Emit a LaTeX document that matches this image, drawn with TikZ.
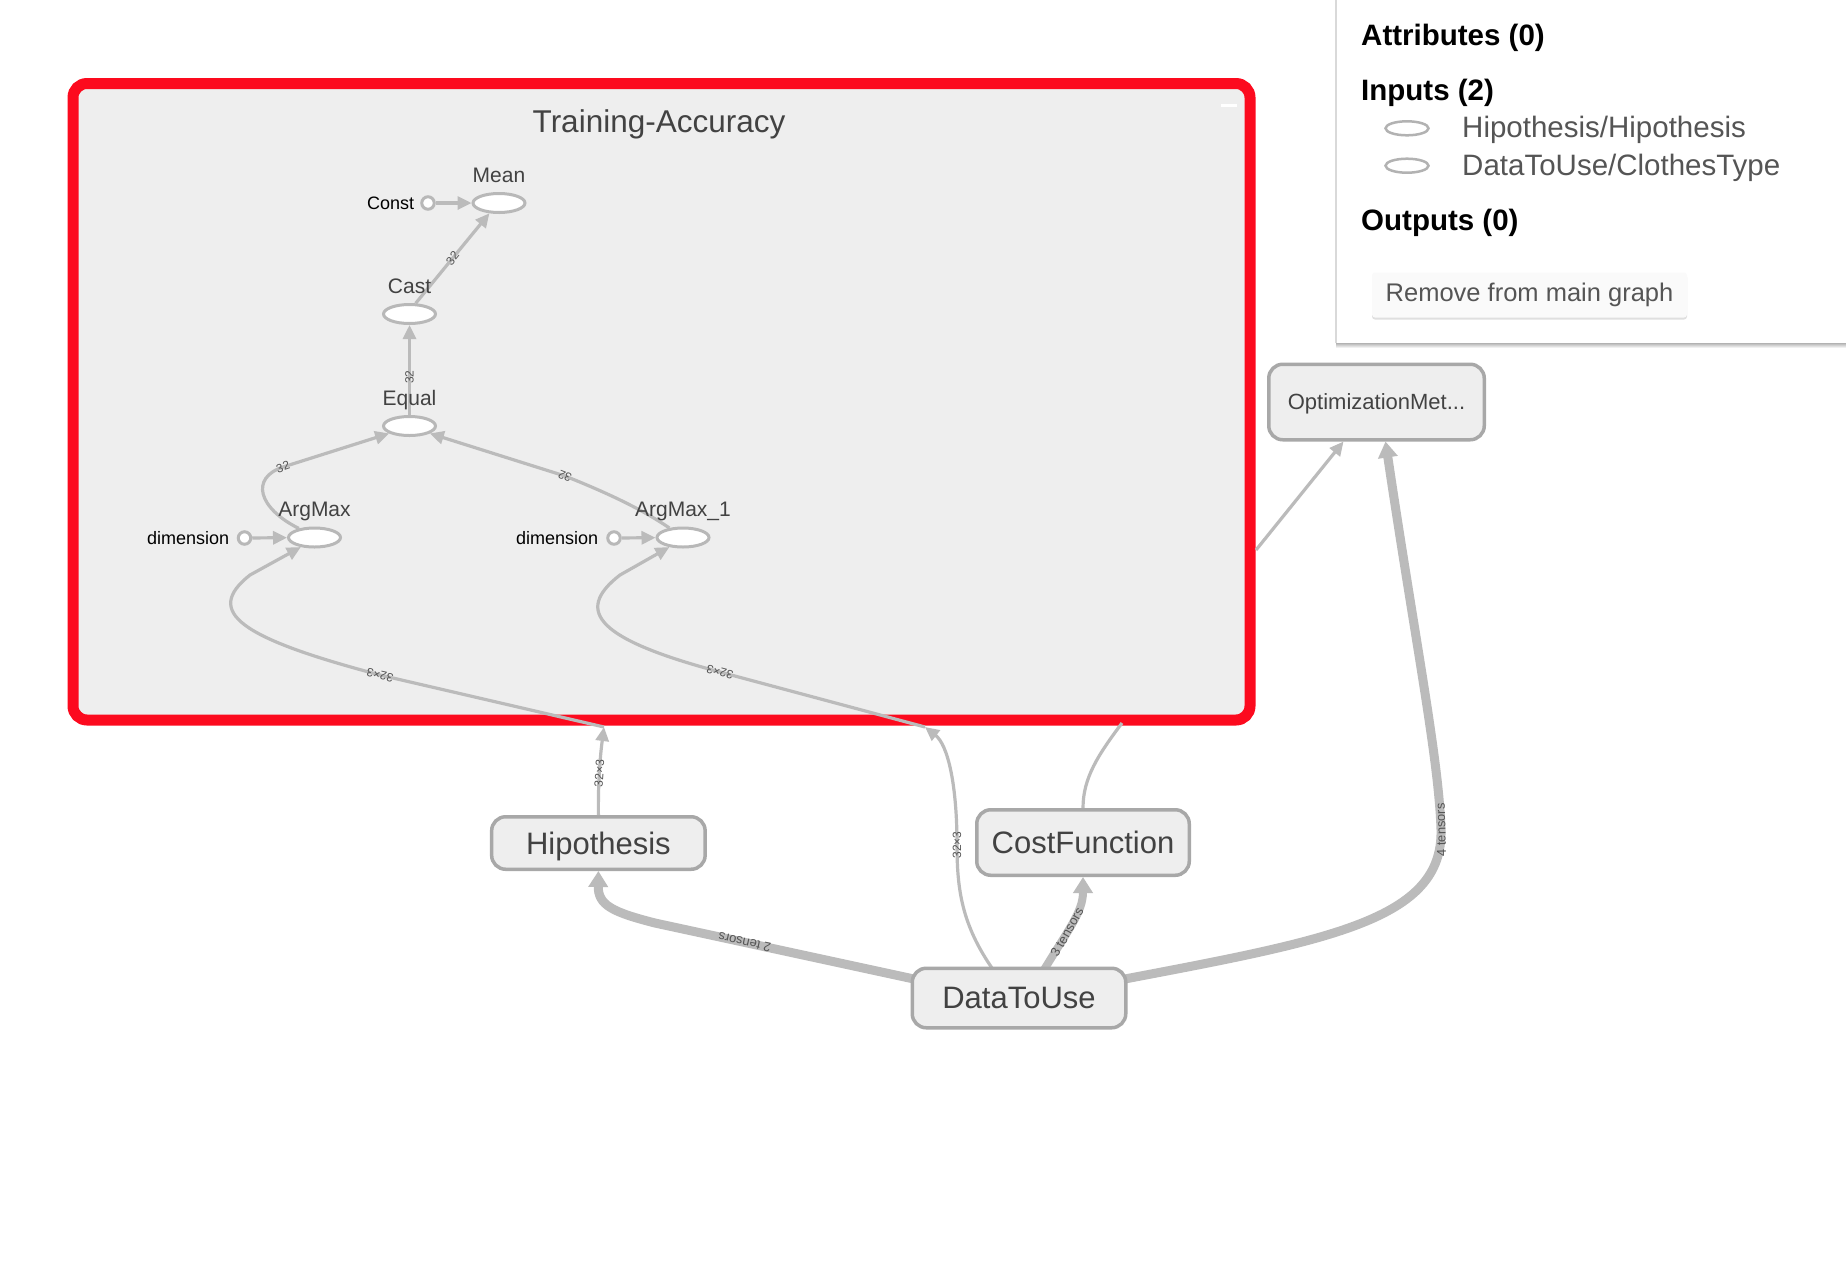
\documentclass[tikz,border=0pt]{standalone}
\usepackage{fontspec}
\setmainfont{Liberation Sans}
\usepackage{tikz}
\usetikzlibrary{arrows.meta,positioning,calc,backgrounds,shapes.geometric,shadows}

\definecolor{grpred}{HTML}{FC0A1E}
\definecolor{grpfill}{HTML}{EEEEEE}
\definecolor{edgegray}{HTML}{BBBBBB}
\definecolor{boxgray}{HTML}{A8A8A8}
\definecolor{opgray}{HTML}{B8B8B8}
\definecolor{txtgray}{HTML}{424242}
\definecolor{lblgray}{HTML}{555555}

\tikzset{
  grpbox/.style={rectangle, draw=grpred, line width=11pt, fill=grpfill,
                 rounded corners=14pt, inner sep=0pt},
  grptitle/.style={anchor=base, inner sep=0pt, text=txtgray,
                   font=\fontsize{31.5}{36}\selectfont},
  opnode/.style={ellipse, draw=opgray, line width=3pt, fill=white,
                 minimum width=52pt, minimum height=19pt, inner sep=0pt},
  oplbl/.style={inner sep=0pt, text=txtgray, font=\fontsize{21}{25}\selectfont},
  cnode/.style={circle, draw=opgray, line width=3pt, fill=white,
                minimum size=12.5pt, inner sep=0pt},
  clbl/.style={inner sep=0pt, font=\fontsize{18}{21}\selectfont},
  metabox/.style={rectangle, draw=boxgray, line width=3.5pt, fill=grpfill,
                  rounded corners=14pt, inner sep=0pt, text=txtgray, text depth=0pt,
                  font=\fontsize{31}{36}\selectfont},
  flow/.style={draw=edgegray, line width=3.2pt, -{Triangle[length=14pt,width=13pt]}},
  bigflow/.style={draw=edgegray, line width=9pt, -{Triangle[length=16pt,width=19pt]}},
  elbl/.style={inner sep=0pt, sloped, allow upside down, text=lblgray,
               font=\fontsize{12}{14}\selectfont},
  tlbl/.style={elbl, font=\fontsize{13}{15}\selectfont},
  phead/.style={anchor=base west, inner sep=0pt, font=\bfseries\fontsize{29.5}{34}\selectfont},
  pitem/.style={anchor=base west, inner sep=0pt, text=lblgray,
                font=\fontsize{29.5}{34}\selectfont},
  inicon/.style={ellipse, draw=black!30, line width=2.5pt, minimum width=43pt,
                 minimum height=14pt, inner sep=0pt},
  rmbtn/.style={rectangle, fill=black!2, rounded corners=3pt, text=lblgray,
                minimum width=315pt, minimum height=45pt, inner sep=0pt,
                font=\fontsize{25.5}{30}\selectfont,
                drop shadow={opacity=0.25, shadow xshift=0pt, shadow yshift=-2pt}},
}

\begin{document}
\begin{tikzpicture}[x=1pt,y=-1pt]
  \useasboundingbox (0,0) rectangle (1846,1278);

  % info panel
  \fill[white] (1336,0) rectangle (1846,343);
  \shade[top color=black!30, bottom color=white] (1336,343) rectangle (1846,348);
  \draw[black!15, line width=1.5pt] (1336,0) -- (1336,343);
  \node[phead] (attr) at (1361,45) {Attributes (0)};
  \node[phead] (inps) at (1361,100) {Inputs (2)};
  \node[inicon] (inicona) at (1407,128.3) {};
  \node[pitem] (inpa) at (1462,137) {Hipothesis/Hipothesis};
  \node[inicon] (iniconb) at (1407,165.7) {};
  \node[pitem] (inpb) at (1462,175) {DataToUse/ClothesType};
  \node[phead] (outs) at (1361,230) {Outputs (0)};
  \node[rmbtn] (remove) at (1529.5,295) {Remove from main graph};

  % group contents
  \node[grptitle] (grplbl) at (659,132) {Training-Accuracy};
  \node[opnode] (mean) at (499,203) {};
  \node[opnode] (cast) at (409.5,314) {};
  \node[opnode] (equal) at (409.5,426) {};
  \node[opnode] (argmax) at (314.5,537.5) {};
  \node[opnode] (argmaxb) at (683,537.5) {};
  \node[oplbl, above=10pt of mean, anchor=base] (meanlbl) {Mean};
  \node[oplbl, above=10pt of cast, anchor=base] (castlbl) {Cast};
  \node[oplbl, above=10pt of equal, anchor=base] (equallbl) {Equal};
  \node[oplbl, above=10pt of argmax, anchor=base] (argmaxlbl) {ArgMax};
  \node[oplbl, above=10pt of argmaxb, anchor=base] (argmaxblbl) {ArgMax\_1};
  \node[cnode] (cst) at (428,203) {};
  \node[clbl, left=6pt of cst] (cstlbl) {Const};
  \node[cnode] (dima) at (244.5,538) {};
  \node[clbl, left=7.5pt of dima] (dimalbl) {dimension};
  \node[cnode] (dimb) at (614,538) {};
  \node[clbl, left=8pt of dimb] (dimblbl) {dimension};

  % outer nodes
  \node[metabox, minimum width=213.5pt, minimum height=52.5pt] (hyp) at (598.4,843) {Hipothesis};
  \node[metabox, minimum width=212.5pt, minimum height=65.5pt] (cost) at (1083,842.5) {CostFunction};
  \node[metabox, minimum width=213.5pt, minimum height=59.5pt] (data) at (1019,998) {DataToUse};
  \node[metabox, minimum width=215.5pt, minimum height=75.5pt,
        font=\fontsize{22}{26}\selectfont] (opt) at (1376.5,402) {OptimizationMet...};

  \begin{scope}[on background layer]
    \fill[white] (0,0) rectangle (1846,1278);
    \node[grpbox, minimum width=1177pt, minimum height=636.5pt] (grp) at (661.5,401.75) {};
    \draw[white, line width=3pt] (1221,105) -- (1237,105);
    \coordinate (hypin) at (604,727);
    \coordinate (datain) at (925,727);
    \coordinate (costin) at (1122,723);
    \coordinate (optout) at (1256,550);

    % inside the group
    \draw[flow] (hypin) -- (380,675) node[elbl, pos=1] {32×3}
      .. controls (240,638) and (203,612) .. (250,575) -- (argmax.215);
    \draw[flow] (datain) -- (720,672) node[elbl, pos=1] {32×3}
      .. controls (600,640) and (572,612) .. (620,575) -- (argmaxb.215);
    \draw[flow] (argmax.150) .. controls (258,508) and (250,478) .. (283,467)
      node[elbl, pos=1] {32} -- (equal.200);
    \draw[flow] (argmaxb.145) .. controls (640,508) and (605,492) .. (565,476)
      node[elbl, pos=1] {32} -- (equal.340);
    \draw[flow] (equal) -- (cast) node[elbl, pos=0.42] {32};
    \draw[flow] (cast.60) -- (mean.227) node[elbl, midway] {32};
    \draw[flow] (cst) -- (mean);
    \draw[flow] (dima) -- (argmax);
    \draw[flow] (dimb) -- (argmaxb);

    % between the outer nodes
    \draw[flow] (hyp.north) .. controls (598,775) and (601,750) .. (hypin)
      node[elbl, pos=0.4] {32×3};
    \draw[flow] ($(data.north)+(-26,3)$) .. controls (962,925) and (957,890) .. (957,845)
      node[elbl, pos=1] {32×3} .. controls (957,785) and (948,745) .. (datain);
    \draw[flow, -] (cost.north) .. controls (1083,778) and (1098,755) .. (costin);
    \draw[flow] (optout) -- ($(opt.south)+(-33,0)$);
    \draw[bigflow] ($(data.west)+(8,-18)$) -- (655,923) node[tlbl, pos=0.66] {2 tensors}
      .. controls (612,912) and (598,905) .. (hyp.south);
    \draw[bigflow, line width=8pt] ($(data.north)+(24,5)$) .. controls (1068,930) and (1083,912) .. (cost.south)
      node[tlbl, pos=0.38] {3 tensors};
    \draw[bigflow] ($(data.east)+(-8,-18)$) .. controls (1330,940) and (1443,920) .. (1441,830)
      node[tlbl, pos=1] {4 tensors} .. controls (1439,760) and (1415,640) .. ($(opt.south)+(9,0)$);
  \end{scope}
\end{tikzpicture}
\end{document}
